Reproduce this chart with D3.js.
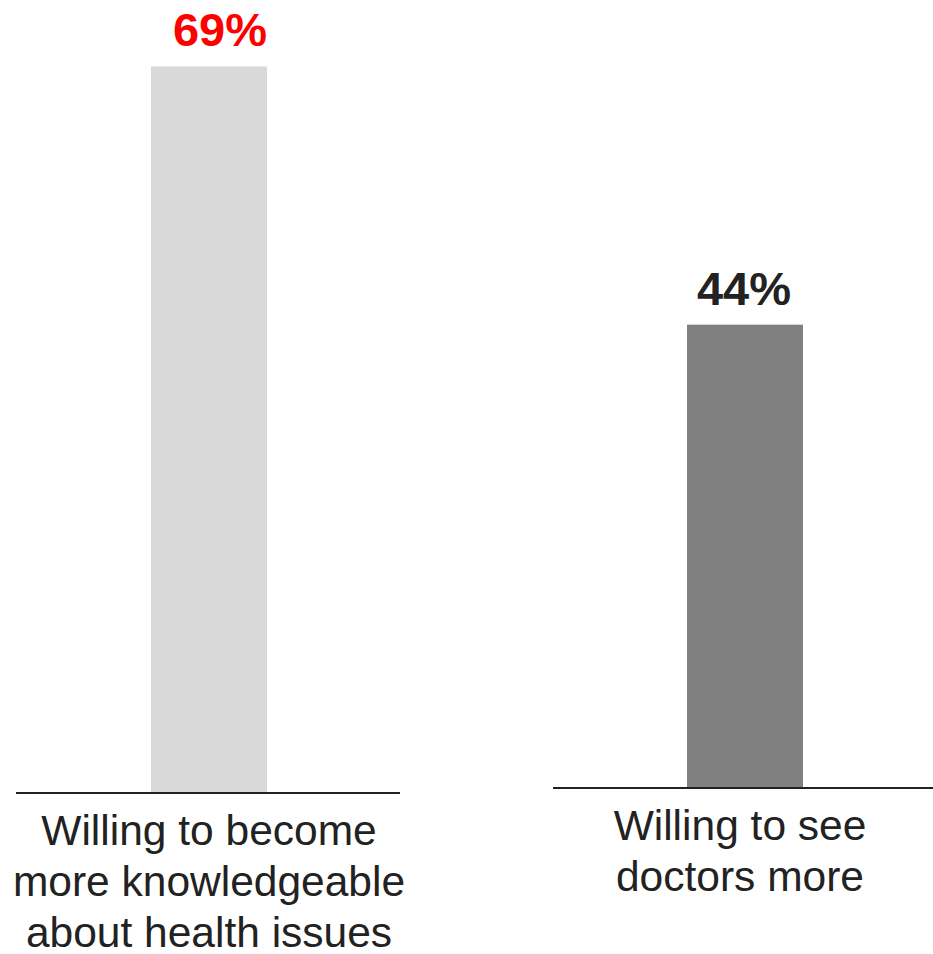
<!DOCTYPE html>
<html><head><meta charset="utf-8">
<script src="https://cdn.jsdelivr.net/npm/d3@7/dist/d3.min.js"></script>
<style>html,body{margin:0;padding:0;background:#fff;}svg{display:block;}</style>
</head><body>
<svg id="chart" width="933" height="954"></svg>
<script>
const categories = [
  ["Willing to become", "more knowledgeable", "about health issues"],
  ["Willing to see", "doctors more"]
];
const values = [69, 44];
const valueLabels = ["69%", "44%"];
const barColors = ["#d9d9d9", "#808080"];
const labelColors = ["#ff0000", "#222222"];

// layout for each panel (each bar has its own baseline)
const panels = [
  {x0: 16, x1: 400, base: 793, barCenter: 209, labelCenter: 209, valueDx: 11},
  {x0: 553, x1: 933, base: 788, barCenter: 745, labelCenter: 740, valueDx: -1}
];

const svg = d3.select("#chart");
const h = d3.scaleLinear().domain([0, 100]).range([0, 1053]);
const barW = 116;
const font = "'Liberation Sans', Arial, sans-serif";

values.forEach((v, i) => {
  const p = panels[i];
  const g = svg.append("g");
  const x = d3.scaleBand().domain([i]).range([p.barCenter - barW / 2, p.barCenter + barW / 2]);
  g.append("rect")
    .attr("x", x(i)).attr("width", x.bandwidth())
    .attr("y", p.base - h(v)).attr("height", h(v))
    .attr("fill", barColors[i]);
  g.append("line")
    .attr("x1", p.x0).attr("x2", p.x1)
    .attr("y1", p.base).attr("y2", p.base)
    .attr("stroke", "#222").attr("stroke-width", 2);
  g.append("text")
    .attr("x", p.barCenter + p.valueDx)
    .attr("y", p.base - h(v) - 20)
    .attr("text-anchor", "middle")
    .attr("font-family", font).attr("font-weight", "bold").attr("font-size", 47)
    .attr("fill", labelColors[i])
    .text(valueLabels[i]);
  const t = g.append("text")
    .attr("text-anchor", "middle")
    .attr("font-family", font).attr("font-size", 42.5)
    .attr("fill", "#222");
  categories[i].forEach((line, j) => {
    t.append("tspan").attr("x", p.labelCenter).attr("y", p.base + 52 + j * 51).text(line);
  });
});
</script>
</body></html>
